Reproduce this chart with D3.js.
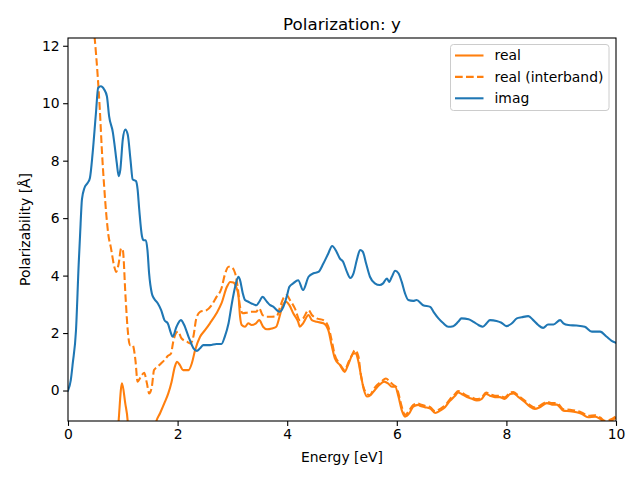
<!DOCTYPE html>
<html>
<head>
<meta charset="utf-8">
<script src="https://cdn.jsdelivr.net/npm/d3@7"></script>
<style>
  html, body { margin: 0; padding: 0; background: #fff; }
  svg text { font-family: "DejaVu Sans", sans-serif; }
</style>
</head>
<body>
<svg id="chart" width="640" height="480"></svg>
<script>
const xTicks = [0, 2, 4, 6, 8, 10];
const yTicks = [0, 2, 4, 6, 8, 10, 12];
const seriesNames = ["real", "real (interband)", "imag"];

const energyImag = [0,0.05,0.087,0.146,0.195,0.22,0.255,0.30,0.36,0.40,0.45,0.51,0.55,0.60,0.66,0.71,0.75,0.82,0.845,0.89,0.925,0.955,1.0,1.045,1.09,1.14,1.18,1.24,1.27,1.30,1.35,1.38,1.42,1.45,1.48,1.53,1.57,1.64,1.70,1.76,1.82,1.88,1.91,1.98,2.06,2.12,2.2,2.29,2.35,2.41,2.47,2.59,2.71,2.8,2.86,2.93,2.99,3.05,3.11,3.14,3.19,3.23,3.29,3.35,3.44,3.49,3.55,3.63,3.69,3.75,3.81,3.86,3.93,3.99,4.04,4.11,4.2,4.29,4.39,4.48,4.57,4.66,4.75,4.82,4.9,4.96,5.02,5.09,5.15,5.21,5.27,5.33,5.38,5.44,5.51,5.6,5.69,5.75,5.82,5.86,5.91,5.97,6.03,6.09,6.15,6.21,6.3,6.36,6.48,6.61,6.67,6.76,6.85,6.94,7.03,7.12,7.18,7.31,7.4,7.49,7.57,7.64,7.7,7.82,7.91,8.0,8.1,8.19,8.28,8.4,8.49,8.58,8.67,8.76,8.86,8.98,9.04,9.13,9.28,9.43,9.56,9.71,9.83,9.92,10];
const imag = [0,0.35,0.95,2.1,4.4,5.4,6.66,7.05,7.23,7.4,8.27,9.66,10.53,10.59,10.48,10.24,9.55,8.97,8.62,7.92,7.46,7.69,8.74,9.08,8.91,8.04,7.35,7.29,7.0,6.3,5.37,5.23,5.23,4.89,4.08,3.38,3.2,3.03,2.8,2.45,2.34,1.99,1.87,2.22,2.45,2.28,1.87,1.47,1.38,1.47,1.58,1.58,1.62,1.62,1.87,2.34,3.03,3.61,3.96,3.84,3.38,3.15,3.09,3.03,2.97,3.09,3.26,3.09,2.97,2.91,2.8,2.74,2.91,3.26,3.61,3.73,3.84,3.5,3.96,4.08,4.13,4.42,4.77,5.03,4.83,4.6,4.48,4.13,3.92,4.08,4.54,4.89,4.83,4.42,3.96,3.73,3.67,3.73,3.9,3.78,3.96,4.17,4.08,3.78,3.38,3.15,3.12,3.15,2.97,2.91,2.74,2.51,2.34,2.22,2.24,2.39,2.51,2.48,2.39,2.28,2.22,2.34,2.45,2.42,2.36,2.24,2.34,2.51,2.55,2.59,2.45,2.28,2.18,2.3,2.3,2.45,2.34,2.28,2.26,2.22,2.05,2.05,1.87,1.73,1.66];

const energyInter = [0.40,0.45,0.49,0.54,0.58,0.62,0.66,0.70,0.74,0.78,0.845,0.88,0.925,0.97,1.0,1.05,1.09,1.13,1.18,1.23,1.27,1.33,1.39,1.44,1.48,1.53,1.57,1.64,1.70,1.76,1.82,1.88,1.92,1.97,2.01,2.07,2.17,2.24,2.29,2.34,2.41,2.53,2.62,2.71,2.8,2.86,2.93,2.99,3.05,3.10,3.14,3.19,3.26,3.35,3.43,3.49,3.55,3.63,3.72,3.81,3.87,3.93,3.99,4.05,4.14,4.23,4.29,4.39,4.45,4.54,4.66,4.75,4.81,4.87,4.93,4.99,5.05,5.11,5.18,5.24,5.30,5.34,5.39,5.45,5.51,5.57,5.64,5.72,5.8,5.87,5.94,5.99,6.03,6.09,6.15,6.21,6.3,6.39,6.42,6.51,6.61,6.7,6.79,6.88,6.97,7.06,7.12,7.18,7.28,7.37,7.46,7.55,7.63,7.7,7.79,7.88,7.97,8.07,8.13,8.22,8.34,8.43,8.52,8.61,8.74,8.83,8.92,9.04,9.16,9.28,9.37,9.49,9.62,9.71,9.8,9.89,10];
const realInterband = [15.0,13.0,12.2,11.0,9.8,8.3,7.1,6.1,5.37,5.0,4.31,4.13,4.42,4.95,4.89,3.26,2.1,1.58,1.58,1.06,0.31,0.48,0.62,0.25,-0.1,0.13,0.71,0.83,0.95,1.06,1.2,1.29,1.7,2.0,2.05,1.82,1.7,1.64,1.9,2.5,2.74,2.8,2.97,3.26,3.55,4.02,4.31,4.28,4.08,3.55,2.91,2.69,2.71,2.74,2.74,2.86,2.63,2.57,2.57,2.59,2.91,3.21,3.32,3.15,2.86,2.45,2.51,2.8,2.63,2.51,2.45,2.22,1.76,1.23,1.0,0.83,0.71,0.95,1.23,1.41,1.18,0.6,0.13,-0.1,-0.16,0.02,0.19,0.31,0.42,0.31,0.19,0.13,-0.1,-0.56,-0.85,-0.74,-0.5,-0.45,-0.48,-0.53,-0.58,-0.72,-0.64,-0.52,-0.3,-0.13,-0.02,-0.07,-0.18,-0.24,-0.3,-0.24,-0.07,-0.13,-0.18,-0.18,-0.24,-0.07,-0.05,-0.18,-0.36,-0.51,-0.59,-0.53,-0.39,-0.44,-0.44,-0.65,-0.67,-0.71,-0.76,-0.88,-0.86,-0.94,-1.05,-1.02,-0.9];

const energyReal = [0.86,0.925,0.985,1.045,1.09,1.14,1.35,1.55,1.61,1.68,1.77,1.83,1.89,1.95,1.99,2.04,2.1,2.2,2.26,2.32,2.41,2.5,2.59,2.71,2.8,2.9,2.96,3.02,3.07,3.11,3.14,3.17,3.23,3.29,3.35,3.43,3.49,3.56,3.63,3.72,3.8,3.86,3.92,3.98,4.04,4.11,4.2,4.23,4.29,4.39,4.45,4.54,4.66,4.75,4.81,4.87,4.96,5.05,5.11,5.21,5.25,5.30,5.35,5.40,5.46,5.52,5.6,5.68,5.77,5.84,5.91,5.97,6.03,6.09,6.15,6.23,6.3,6.39,6.42,6.51,6.61,6.7,6.79,6.88,6.97,7.06,7.12,7.18,7.28,7.37,7.46,7.55,7.63,7.7,7.79,7.88,7.97,8.07,8.13,8.22,8.34,8.43,8.52,8.61,8.74,8.83,8.92,9.04,9.16,9.28,9.37,9.49,9.62,9.71,9.8,9.89,10];
const real = [-3.0,-1.03,0.25,-0.45,-1.08,-3.0,-4.0,-1.6,-1.08,-0.79,-0.39,-0.1,0.3,0.83,1.0,0.89,0.71,0.71,0.95,1.41,1.87,2.1,2.34,2.69,3.03,3.61,3.78,3.76,3.6,3.3,2.57,2.28,2.22,2.34,2.28,2.34,2.45,2.22,2.13,2.16,2.22,2.57,2.97,3.09,2.97,2.69,2.39,2.22,2.34,2.63,2.45,2.39,2.34,2.1,1.58,1.12,0.89,0.65,0.89,1.29,1.3,1.0,0.48,0.02,-0.21,-0.16,0.02,0.19,0.31,0.25,0.13,0.13,-0.21,-0.68,-0.91,-0.79,-0.56,-0.5,-0.53,-0.58,-0.63,-0.78,-0.7,-0.58,-0.36,-0.19,-0.07,-0.12,-0.23,-0.29,-0.35,-0.29,-0.12,-0.18,-0.23,-0.23,-0.29,-0.12,-0.1,-0.23,-0.41,-0.56,-0.64,-0.58,-0.44,-0.49,-0.49,-0.7,-0.72,-0.76,-0.81,-0.93,-0.91,-0.99,-1.1,-1.07,-0.95];

const svg = d3.select("#chart");
const margin = {left: 68, right: 616, top: 38, bottom: 421};
const x = d3.scaleLinear().domain([0, 10]).range([margin.left, margin.right]);
const y = d3.scaleLinear().domain([-1.061, 12.27]).range([margin.bottom, margin.top]);

svg.append("defs").append("clipPath").attr("id", "clip")
  .append("rect").attr("x", margin.left).attr("y", margin.top)
  .attr("width", margin.right - margin.left).attr("height", margin.bottom - margin.top);

const line = d3.line().x(d => x(d[0])).y(d => y(d[1])).curve(d3.curveMonotoneX);
const plot = svg.append("g").attr("clip-path", "url(#clip)");

const series = [
  {name: seriesNames[0], e: energyReal, v: real, color: "#ff7f0e", dash: null},
  {name: seriesNames[1], e: energyInter, v: realInterband, color: "#ff7f0e", dash: "7.7,3.3"},
  {name: seriesNames[2], e: energyImag, v: imag, color: "#1f77b4", dash: null}
];
series.forEach(s => {
  plot.append("path")
    .datum(s.e.map((e, i) => [e, s.v[i]]))
    .attr("d", line)
    .attr("fill", "none")
    .attr("stroke", s.color)
    .attr("stroke-width", 2.08)
    .attr("stroke-dasharray", s.dash)
    .attr("stroke-linecap", s.dash ? "butt" : "square")
    .attr("stroke-linejoin", "round");
});

// axes
const xAxis = d3.axisBottom(x).tickValues(xTicks).tickSize(4.9).tickPadding(3.5).tickFormat(d3.format("d"));
const yAxis = d3.axisLeft(y).tickValues(yTicks).tickSize(4.9).tickPadding(3.5).tickFormat(d3.format("d"));
const gx = svg.append("g").attr("transform", `translate(0,${margin.bottom})`).call(xAxis);
const gy = svg.append("g").attr("transform", `translate(${margin.left},0)`).call(yAxis);
[gx, gy].forEach(g => {
  g.select(".domain").remove();
  g.selectAll(".tick line").attr("stroke", "#000").attr("stroke-width", 1.1);
  g.selectAll(".tick text").attr("fill", "#000").style("font-size", "13.9px").style("font-family", "DejaVu Sans");
});

// frame
svg.append("rect").attr("x", margin.left).attr("y", margin.top)
  .attr("width", margin.right - margin.left).attr("height", margin.bottom - margin.top)
  .attr("fill", "none").attr("stroke", "#000").attr("stroke-width", 1.1);

// title and labels
svg.append("text").attr("x", (margin.left + margin.right) / 2).attr("y", 29.5)
  .attr("text-anchor", "middle").style("font-size", "16.7px").text("Polarization: y");
svg.append("text").attr("x", (margin.left + margin.right) / 2).attr("y", 462)
  .attr("text-anchor", "middle").style("font-size", "13.9px").text("Energy [eV]");
svg.append("text").attr("transform", `translate(30,${(margin.top + margin.bottom) / 2}) rotate(-90)`)
  .attr("text-anchor", "middle").style("font-size", "13.9px").text("Polarizability [Å]");

// legend
const lg = svg.append("g");
lg.append("rect").attr("x", 450.5).attr("y", 44.5).attr("width", 158.5).attr("height", 66)
  .attr("rx", 3).attr("fill", "#fff").attr("fill-opacity", 0.8).attr("stroke", "#cccccc").attr("stroke-width", 1);
series.forEach((s, i) => {
  const yy = 55.5 + i * 21.4;
  lg.append("line").attr("x1", 455).attr("x2", 483.5).attr("y1", yy).attr("y2", yy)
    .attr("stroke", s.color).attr("stroke-width", 2.08).attr("stroke-dasharray", s.dash);
  lg.append("text").attr("x", 494.5).attr("y", yy + 4.9).style("font-size", "13.9px").text(s.name);
});
</script>
</body>
</html>
